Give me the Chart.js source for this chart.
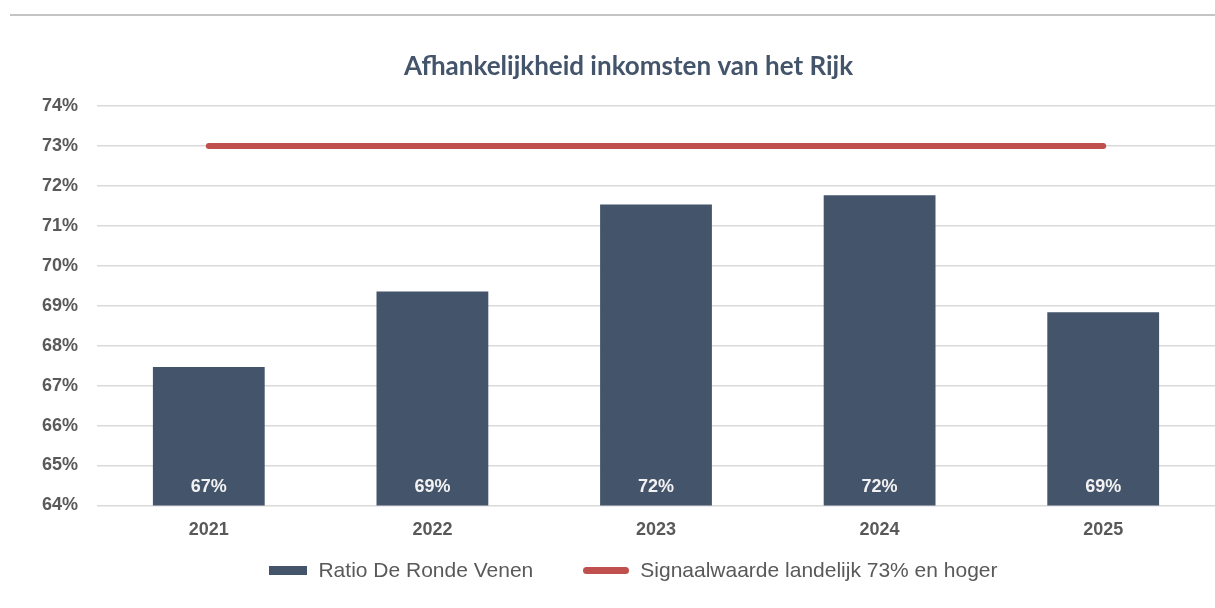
<!DOCTYPE html>
<html>
<head>
<meta charset="utf-8">
<script src="https://cdn.jsdelivr.net/npm/chart.js@4/dist/chart.umd.min.js"></script>
<style>
  html, body { margin: 0; padding: 0; background: #ffffff; }
  body { width: 1215px; height: 608px; position: relative; overflow: hidden; }
  #topline { position: absolute; left: 10px; right: 0; top: 14px; height: 2px; background: #c4c4c4; }
  #wrap { position: absolute; left: 0; top: 0; width: 1215px; height: 608px; }
  #legend { position: absolute; left: 0; width: 1215px; top: 558px; height: 24px;
    display: flex; justify-content: center; align-items: center;
    font-family: "Liberation Sans", Arial, sans-serif; font-size: 21px; color: #595959; padding-left: 52px; box-sizing: border-box; }
  .item { display: flex; align-items: center; }
  .item + .item { margin-left: 50px; }
  .sw { display: inline-block; margin-right: 11px; }
</style>
</head>
<body>
<div id="topline"></div>
<div id="wrap"><canvas id="c" width="1215" height="608"></canvas></div>
<div id="legend"></div>
<script>
const chartTitle = "Afhankelijkheid inkomsten van het Rijk";
const categories = ["2021", "2022", "2023", "2024", "2025"];
const ratioLabel = "Ratio De Ronde Venen";
const ratioValues = [67.47, 69.36, 71.54, 71.77, 68.84];
const signalLabel = "Signaalwaarde landelijk 73% en hoger";
const signalValues = [73, 73, 73, 73, 73];
const yMin = 64, yMax = 74, yStep = 1;

const barColor = "#44546a";
const lineColor = "#c0504d";
const tickColor = "#595959";

const barLabels = {
  id: "barLabels",
  afterDraw(chart) {
    const meta = chart.getDatasetMeta(0);
    const ctx = chart.ctx;
    const baseY = chart.scales.y.getPixelForValue(yMin);
    ctx.save();
    ctx.font = "bold 18px 'Liberation Sans', Arial, sans-serif";
    ctx.fillStyle = "#f2f2f2";
    ctx.textAlign = "center";
    ctx.textBaseline = "middle";
    meta.data.forEach((el, i) => {
      const v = chart.data.datasets[0].data[i];
      ctx.fillText(Math.round(v) + "%", el.x, baseY - 18);
    });
    ctx.restore();
  }
};

const chart = new Chart(document.getElementById("c"), {
  type: "bar",
  data: {
    labels: categories,
    datasets: [
      {
        type: "bar",
        label: ratioLabel,
        data: ratioValues,
        backgroundColor: barColor,
        borderWidth: 0,
        categoryPercentage: 1.0,
        barPercentage: 0.5,
        order: 2
      },
      {
        type: "line",
        label: signalLabel,
        data: signalValues,
        borderColor: lineColor,
        backgroundColor: lineColor,
        borderWidth: 6,
        borderCapStyle: "round",
        pointRadius: 0,
        pointHoverRadius: 0,
        fill: false,
        tension: 0,
        order: 1
      }
    ]
  },
  options: {
    responsive: false,
    animation: false,
    devicePixelRatio: 1,
    layout: { padding: { left: 42, right: 0, top: 40, bottom: 53 } },
    plugins: {
      legend: { display: false },
      tooltip: { enabled: false },
      title: {
        display: true,
        text: chartTitle,
        color: "#44546a",
        font: { family: "Lato, 'Open Sans', sans-serif", size: 26, weight: "bold" },
        padding: { top: 11, bottom: 24 }
      }
    },
    scales: {
      x: {
        offset: true,
        grid: { display: false, drawTicks: false },
        border: { display: false },
        ticks: {
          color: tickColor,
          padding: 14,
          font: { family: "'Liberation Sans', Arial, sans-serif", size: 18, weight: "bold" }
        }
      },
      y: {
        min: yMin,
        max: yMax,
        afterFit: (scale) => { scale.width = 55; },
        grid: { color: "#d9d9d9", lineWidth: 1.5, drawTicks: false },
        border: { display: false },
        ticks: {
          stepSize: yStep,
          color: tickColor,
          padding: 19,
          font: { family: "'Liberation Sans', Arial, sans-serif", size: 18, weight: "bold" },
          callback: (v) => v + "%"
        }
      }
    }
  },
  plugins: [barLabels]
});

// HTML legend built from the datasets
const legend = document.getElementById("legend");
chart.data.datasets.forEach((ds, i) => {
  const item = document.createElement("span");
  item.className = "item";
  const sw = document.createElement("span");
  sw.className = "sw";
  if (ds.type === "line") {
    sw.style.width = "46px"; sw.style.height = "7px"; sw.style.borderRadius = "4px";
  } else {
    sw.style.width = "38px"; sw.style.height = "9px";
  }
  sw.style.background = ds.type === "line" ? ds.borderColor : ds.backgroundColor;
  const t = document.createElement("span");
  t.textContent = ds.label;
  item.appendChild(sw); item.appendChild(t);
  legend.appendChild(item);
});
</script>
</body>
</html>
